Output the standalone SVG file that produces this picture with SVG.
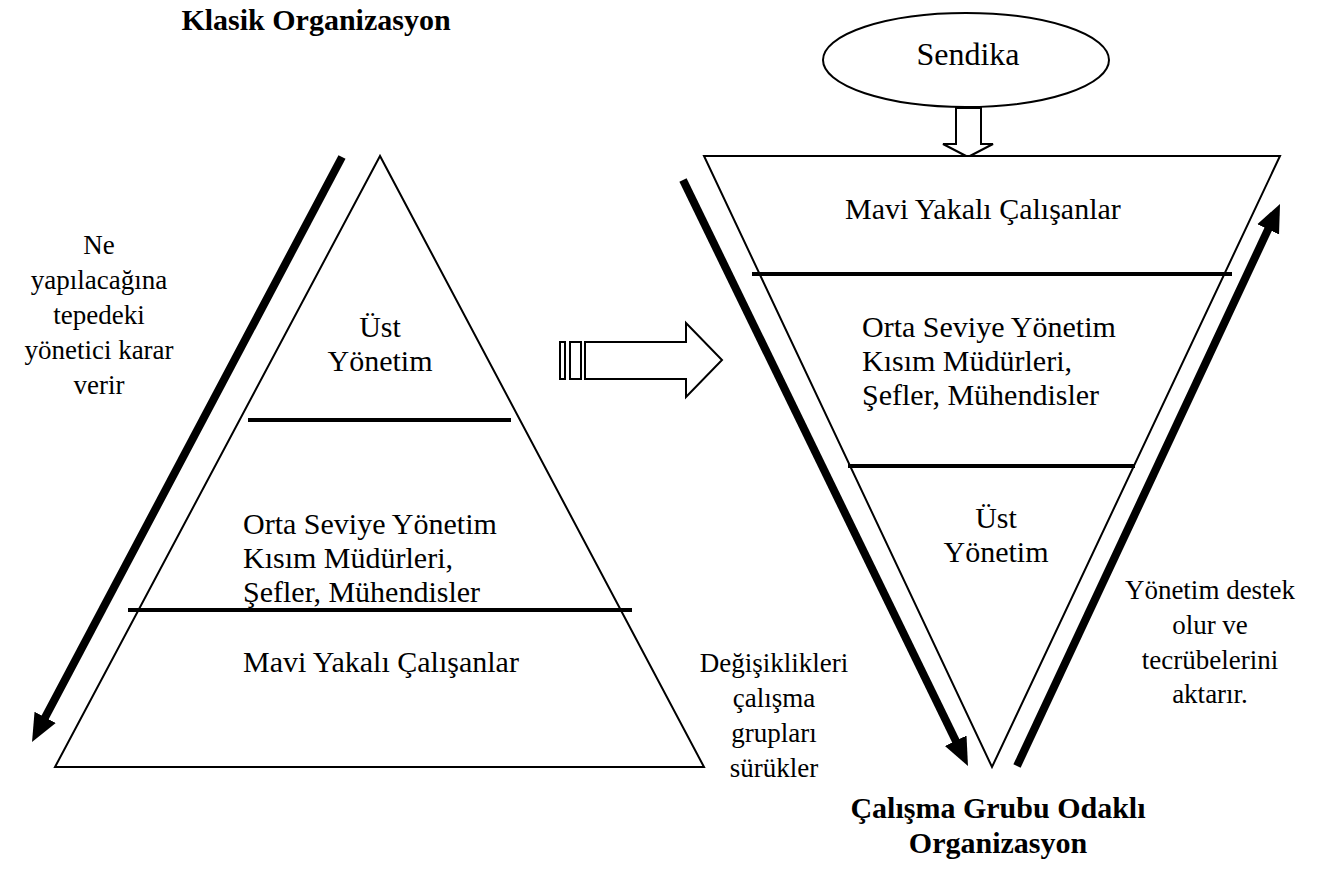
<svg xmlns="http://www.w3.org/2000/svg" width="1321" height="883" viewBox="0 0 1321 883">
  <defs>
    <marker id="head" markerUnits="userSpaceOnUse" markerWidth="30" markerHeight="26" viewBox="0 -13 30 26" refX="2" refY="0" orient="auto">
      <path d="M0,-12 L28,0 L0,12 z" fill="#000"/>
    </marker>
    <style>
      .shape { fill: #fff; stroke: #000; stroke-width: 2; }
      .sep { stroke: #000; stroke-width: 4; }
      .flow { stroke: #000; stroke-width: 8; fill: none; marker-end: url(#head); }
      .t { font-family: "Liberation Serif", "Times New Roman", serif; font-size: 30px; fill: #000; }
      .n { font-size: 27px; }
      .c { text-anchor: middle; }
      .h { font-weight: bold; font-size: 30px; }
    </style>
  </defs>
  <rect width="1321" height="883" fill="#fff"/>

  <!-- Classic pyramid -->
  <g id="classic">
    <text class="t h c" x="316" y="30">Klasik Organizasyon</text>
    <polygon class="shape" points="380,156 55,767 704,767"/>
    <line class="sep" x1="248" y1="420" x2="511" y2="420"/>
    <line class="sep" x1="128" y1="610" x2="632" y2="610"/>
    <text class="t c" x="380" y="337">Üst</text>
    <text class="t c" x="380" y="371">Yönetim</text>
    <text class="t" x="243" y="534">Orta Seviye Yönetim</text>
    <text class="t" x="243" y="568">Kısım Müdürleri,</text>
    <text class="t" x="243" y="602">Şefler, Mühendisler</text>
    <text class="t c" x="381" y="672">Mavi Yakalı Çalışanlar</text>
  </g>

  <g id="classic-note">
    <text class="t n c" x="99" y="254">Ne</text>
    <text class="t n c" x="99" y="289">yapılacağına</text>
    <text class="t n c" x="99" y="324">tepedeki</text>
    <text class="t n c" x="99" y="359">yönetici karar</text>
    <text class="t n c" x="99" y="394">verir</text>
  </g>

  <!-- Transition arrow -->
  <g id="transition">
    <rect class="shape" x="560" y="342" width="5" height="37"/>
    <rect class="shape" x="570" y="342" width="11" height="37"/>
    <polygon class="shape" points="585,342 686,342 686,323 722,360 686,397 686,379 585,379"/>
  </g>

  <!-- Union -->
  <g id="sendika">
    <ellipse class="shape" cx="966" cy="60" rx="143" ry="47"/>
    <text class="t c" x="968" y="65" style="font-size:32px">Sendika</text>
    <polygon class="shape" points="956,108 981,108 981,144 993,144 968,157 943,144 956,144"/>
  </g>

  <!-- Work-group pyramid -->
  <g id="workgroup">
    <polygon class="shape" points="704,156 1280,156 992,767"/>
    <line class="sep" x1="752" y1="274" x2="1232" y2="274"/>
    <line class="sep" x1="848" y1="466" x2="1135" y2="466"/>
    <text class="t" x="845" y="219">Mavi Yakalı Çalışanlar</text>
    <text class="t" x="862" y="337">Orta Seviye Yönetim</text>
    <text class="t" x="862" y="371">Kısım Müdürleri,</text>
    <text class="t" x="862" y="405">Şefler, Mühendisler</text>
    <text class="t c" x="996" y="528">Üst</text>
    <text class="t c" x="996" y="562">Yönetim</text>
    <text class="t h c" x="998" y="818">Çalışma Grubu Odaklı</text>
    <text class="t h c" x="998" y="853">Organizasyon</text>
  </g>

  <g id="workgroup-notes">
    <text class="t n c" x="774" y="672">Değişiklikleri</text>
    <text class="t n c" x="774" y="707">çalışma</text>
    <text class="t n c" x="774" y="742">grupları</text>
    <text class="t n c" x="774" y="777">sürükler</text>
    <text class="t n c" x="1210" y="599">Yönetim destek</text>
    <text class="t n c" x="1210" y="634">olur ve</text>
    <text class="t n c" x="1210" y="669">tecrübelerini</text>
    <text class="t n c" x="1210" y="703">aktarır.</text>
  </g>

  <!-- Direction arrows -->
  <g id="connectors">
    <line class="flow" x1="342" y1="157" x2="44.2" y2="719.1"/>
    <line class="flow" x1="683" y1="180" x2="956.6" y2="742.6"/>
    <line class="flow" x1="1017" y1="766" x2="1269" y2="227.5"/>
  </g>
</svg>
